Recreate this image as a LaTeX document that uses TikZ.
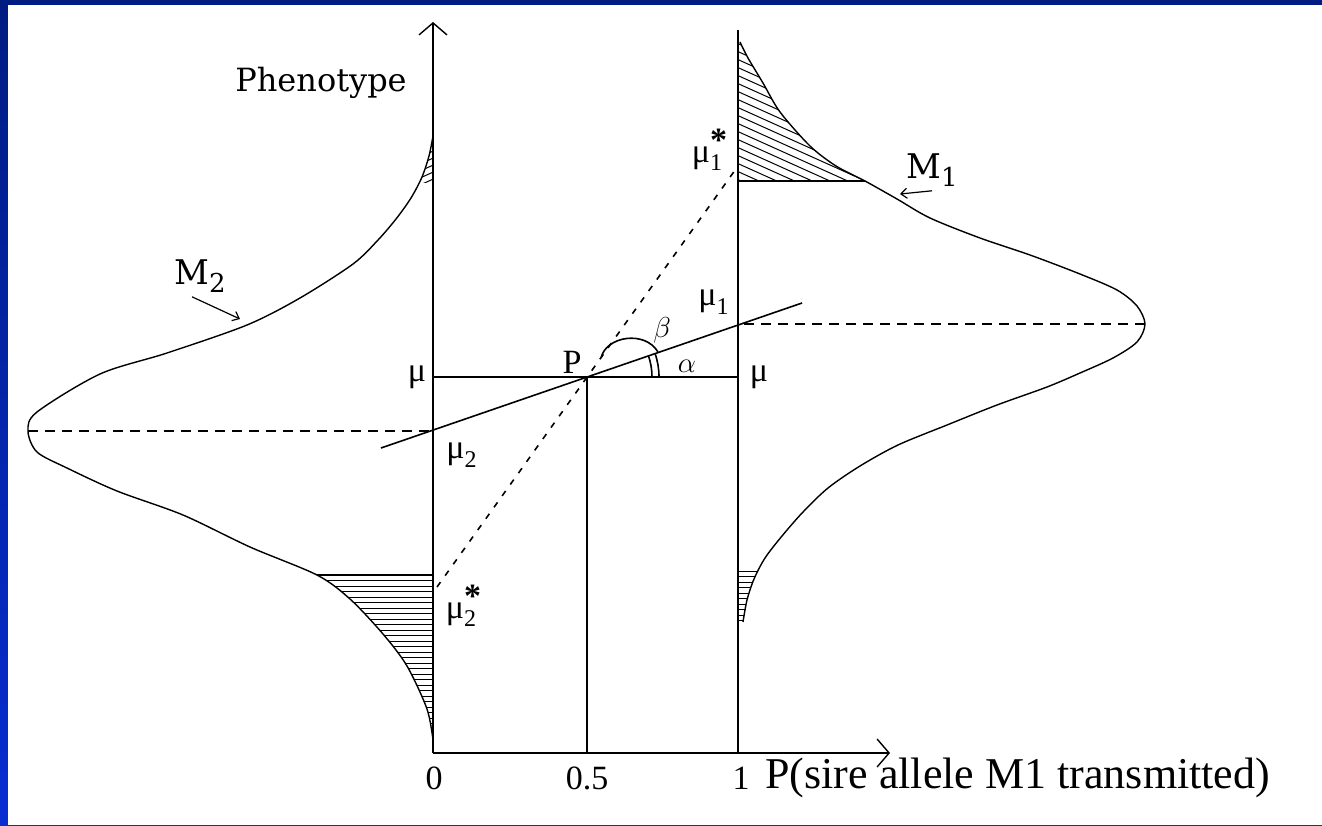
\documentclass[tikz,border=0pt]{standalone}
\usepackage{fontspec}
\setmainfont{Liberation Serif}
\newfontfamily\dvs{DejaVu Serif}
\usetikzlibrary{arrows.meta}
\definecolor{navy}{RGB}{0,28,130}
\definecolor{frameblue}{RGB}{8,45,210}
\newcommand\mulab[2]{$\mbox{\fontsize{17}{17}\selectfont μ}_{\mbox{\fontsize{12}{12}\selectfont #1}}#2$}
\begin{document}
\begin{tikzpicture}[x=0.5pt,y=-0.5pt,
  axisline/.style={line width=1pt},
  axisarrow/.style={line width=1pt,-{Straight Barb[length=6pt,width=14pt,line width=0.7pt]}},
  thinline/.style={line width=0.8pt},
  curveline/.style={line width=0.7pt},
  dashline/.style={line width=0.8pt,dash pattern=on 5pt off 3.5pt},
  dotline/.style={line width=0.8pt,dash pattern=on 3pt off 4pt},
  hatchline/.style={line width=0.5pt},
  ptr/.style={line width=0.6pt,-{Straight Barb[length=3pt,width=5pt]}},
  lab/.style={inner sep=0pt},
]
\useasboundingbox (0,0) rectangle (1322,825);
\shade[top color=navy,bottom color=frameblue] (0,0) rectangle (1322,825);
\fill[white] (8,5) rectangle (1322,825);

% key points
\coordinate (O) at (433,753);
\coordinate (Ytop) at (433,22);
\coordinate (Xend) at (890,753);
\coordinate (Mid) at (587,753);
\coordinate (P) at (587,377);
\coordinate (A1b) at (738,753);
\coordinate (A1t) at (738,30);
\coordinate (Mu0) at (433,377);
\coordinate (Mu1) at (738,377);
\coordinate (Sa) at (381,448);
\coordinate (Sb) at (802,303);
\coordinate (Da) at (437,587);
\coordinate (Db) at (738,166);
\coordinate (Pk1) at (1145,324);
\coordinate (A1pk) at (738,324);
\coordinate (Pk2) at (28,431);
\coordinate (A0pk) at (433,431);

\def\Mone{(740,42) (748,58) (763,83) (780,112) (810,146) (836,166) (865,181) (897,199) (930,218) (980,238) (1030,255) (1080,274) (1117,290) (1137,306) (1145,324) (1137,342) (1113,358) (1080,373) (1047,387) (997,405) (947,425) (898,445) (860,466) (828,488) (803,512) (782,536) (765,558) (754,579) (747,600) (743,622)}
\def\Mtwo{(433,136) (429,156) (422,177) (411,198) (396,219) (378,240) (353,264) (300,298) (247,325) (167,353) (100,374) (37,412) (28,431) (37,452) (67,468) (117,491) (183,515) (250,547) (317,575) (350,599) (383,634) (407,666) (427,709) (433,740)}

% hatching right top
\begin{scope}
  \clip (738,42) -- plot[smooth] coordinates {\Mone} -- (738,622) -- cycle;
  \clip (700,0) rectangle (900,181);
  \foreach \k in {0,...,30} \draw[hatchline] (730,-40+\k*8) -- ++(200,90);
\end{scope}
% hatching right bottom
\begin{scope}
  \clip (738,42) -- plot[smooth] coordinates {\Mone} -- (738,622) -- cycle;
  \foreach \k in {0,...,10} \draw[hatchline] (730,571+\k*5.5) -- (800,571+\k*5.5);
\end{scope}
% hatching left top
\begin{scope}
  \clip (433,136) -- plot[smooth] coordinates {\Mtwo} -- (433,740) -- cycle;
  \clip (380,100) rectangle (440,182);
  \foreach \k in {0,...,12} \draw[hatchline] (400,110+\k*7) -- ++(40,-18);
\end{scope}
% hatching left bottom
\begin{scope}
  \clip (433,136) -- plot[smooth] coordinates {\Mtwo} -- (433,740) -- cycle;
  \foreach \k in {0,...,30} \draw[hatchline] (300,575+\k*5.5) -- (440,575+\k*5.5);
\end{scope}
\draw[thinline] (738,181) -- (865,181);
\draw[thinline] (317,575) -- (433,575);

% curves
\draw[curveline] plot[smooth] coordinates {\Mone};
\draw[curveline] plot[smooth] coordinates {\Mtwo};

% axes and frame lines
\draw[axisarrow] (O) -- (Ytop);
\draw[axisarrow] (O) -- (Xend);
\draw[axisline] (Mid) -- (P);
\draw[axisline] (A1b) -- (A1t);
\draw[thinline] (Mu0) -- (Mu1);
\draw[thinline] (Sa) -- (Sb);
\draw[dashline] (Pk1) -- (A1pk);
\draw[dashline] (Pk2) -- (A0pk);
\draw[dotline] (Da) -- (Db);

% angle marks
\draw[thinline] (652,377) arc[start angle=0,end angle=-19,radius=65];
\draw[thinline] (659,377) arc[start angle=0,end angle=-19,radius=72];
\draw[thinline] (601,358) .. controls (606,336) and (645,330) .. (658,352);

% labels
\node[lab] (phen) at (321,83) {\dvs\fontsize{16}{16}\selectfont Phenotype};
\node[lab] (t0) at (434,778) {\fontsize{17}{17}\selectfont 0};
\node[lab] (t05) at (587,778) {\fontsize{17}{17}\selectfont 0.5};
\node[lab] (t1) at (741,778) {\fontsize{17}{17}\selectfont 1};
\node[lab,anchor=west] (xlab) at (765,778) {\fontsize{22}{22}\selectfont P(sire allele M1 transmitted)};
\node[lab] (mul) at (417,377) {\fontsize{17}{17}\selectfont μ};
\node[lab] (mur) at (759,377) {\fontsize{17}{17}\selectfont μ};
\node[lab] (plab) at (572,362) {\fontsize{17}{17}\selectfont P};
\node[lab] (alab) at (687,366) {\fontsize{15}{15}\selectfont $\alpha$};
\node[lab] (blab) at (662,330) {\fontsize{15}{15}\selectfont $\beta$};
\node[lab] (mu1) at (714,302) {\mulab{1}{}};
\node[lab] (mu2) at (462,455) {\mulab{2}{}};
\node[lab] (mu1s) at (710,150) {\mulab{1}{^{\mbox{\fontsize{17}{17}\selectfont\bfseries *}}}};
\node[lab] (mu2s) at (464,606) {\mulab{2}{^{\mbox{\fontsize{17}{17}\selectfont\bfseries *}}}};
\node[lab] (m2lab) at (200,276) {\dvs\fontsize{17}{17}\selectfont M\raisebox{-4pt}{\fontsize{13}{13}\selectfont 2}};
\node[lab] (m1lab) at (932,170) {\dvs\fontsize{17}{17}\selectfont M\raisebox{-4pt}{\fontsize{13}{13}\selectfont 1}};
\coordinate (m2tip) at (240,319);
\coordinate (m1tip) at (900,194);
\draw[ptr] ([xshift=-4pt,yshift=-2pt]m2lab.south) -- (m2tip);
\draw[ptr] ([yshift=-2pt]m1lab.south) -- (m1tip);
\end{tikzpicture}
\end{document}
